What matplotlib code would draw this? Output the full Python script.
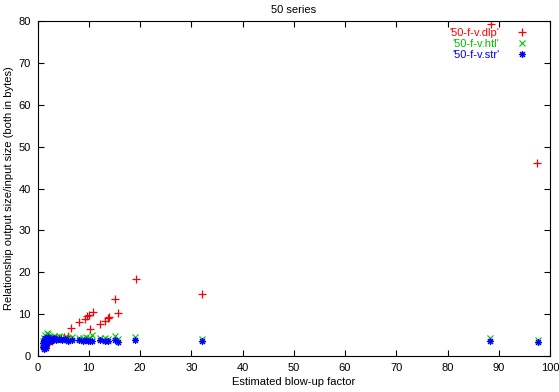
import matplotlib
matplotlib.use('Agg')
import matplotlib.pyplot as plt

plt.rcParams['font.family'] = ['Liberation Sans', 'DejaVu Sans']

# '50-f-v.dlp'
dlp_x = [1.2, 1.3, 1.4, 1.5, 1.6, 1.8, 2.0, 2.2, 2.5, 2.8, 3.2, 3.6, 4.1, 4.6, 5.2,
         5.9, 6.6, 8.0, 9.2, 9.6, 10.1, 10.2, 10.8, 12.2, 13.2, 13.7, 13.95, 15.1,
         15.8, 19.2, 32.1, 88.4, 97.4]
dlp_y = [2.0, 2.5, 3.0, 2.2, 3.4, 2.8, 3.6, 3.2, 3.9, 3.5, 4.0, 4.2, 4.3, 4.4, 4.5,
         4.8, 6.8, 8.2, 8.8, 9.5, 9.7, 6.4, 10.6, 7.6, 8.4, 9.0, 9.4, 13.6,
         10.3, 18.3, 14.9, 79.2, 46.1]

# '50-f-v.htl' and '50-f-v.str' share the inputs
in_x = [1.0, 1.1, 1.2, 1.3, 1.4, 1.5, 1.6, 1.7, 1.8, 1.9, 2.0, 2.1, 2.3, 2.5, 2.7,
        3.0, 3.3, 3.7, 4.2, 4.8, 5.3, 6.0, 6.7, 8.0, 8.9, 9.4, 9.8, 10.2, 10.6,
        12.2, 13.2, 13.8, 15.1, 15.8, 19.1, 32.1, 88.3, 97.7]
htl_y = [3.5, 2.8, 4.4, 2.3, 5.0, 3.3, 4.1, 2.7, 5.5, 3.8, 5.2, 4.2, 4.6, 4.7, 4.3,
         4.6, 4.8, 4.5, 4.7, 4.4, 4.6, 4.3, 4.5, 4.4, 4.2, 4.5, 4.1, 4.3, 4.9,
         4.4, 4.3, 4.1, 4.8, 4.0, 4.6, 4.1, 4.2, 3.9]
str_y = [3.0, 2.2, 3.8, 1.6, 4.4, 2.6, 3.4, 2.0, 4.0, 3.1, 4.6, 3.5, 3.9, 4.1, 3.7,
         4.0, 4.2, 3.9, 4.1, 3.8, 4.0, 3.7, 3.9, 3.8, 3.6, 3.9, 3.5, 3.7, 3.6,
         3.8, 3.7, 3.5, 3.9, 3.4, 3.9, 3.5, 3.6, 3.3]

x_ticks = list(range(0, 101, 10))
y_ticks = list(range(0, 81, 10))

fig = plt.figure(figsize=(5.59, 3.92), dpi=100)
ax = fig.add_axes([0.0671, 0.0918, 0.9168, 0.8546])

ax.plot(dlp_x, dlp_y, linestyle='none', marker='+', color='#ff0000',
        markersize=6, markeredgewidth=0.9, label="'50-f-v.dlp'")
ax.plot(in_x, htl_y, linestyle='none', marker='x', color='#00c000',
        markersize=4.5, markeredgewidth=0.8, label="'50-f-v.htl'")
ax.plot(in_x, str_y, linestyle='none', marker=(8, 2, 0), color='#0000ff',
        markersize=5, markeredgewidth=0.8, label="'50-f-v.str'")

ax.set_xlim(0, 100)
ax.set_ylim(0, 80)
ax.set_xticks(x_ticks)
ax.set_yticks(y_ticks)
ax.tick_params(direction='in', length=4, width=0.8, top=True, right=True,
               labelsize=8, pad=5)
for s in ax.spines.values():
    s.set_linewidth(0.8)

ax.set_title('50 series', fontsize=8, pad=6)
ax.set_xlabel('Estimated blow-up factor', fontsize=8, labelpad=3)
ax.set_ylabel('Relationship output size/input size (both in bytes)', fontsize=8, labelpad=3)

ax.legend(loc='upper right', bbox_to_anchor=(0.975, 1.0), markerfirst=False,
          frameon=False, fontsize=8, labelcolor='linecolor', handlelength=1.5,
          handletextpad=1.3, borderaxespad=0.2, labelspacing=0.1, borderpad=0.4)

fig.savefig('out.png', dpi=100)
